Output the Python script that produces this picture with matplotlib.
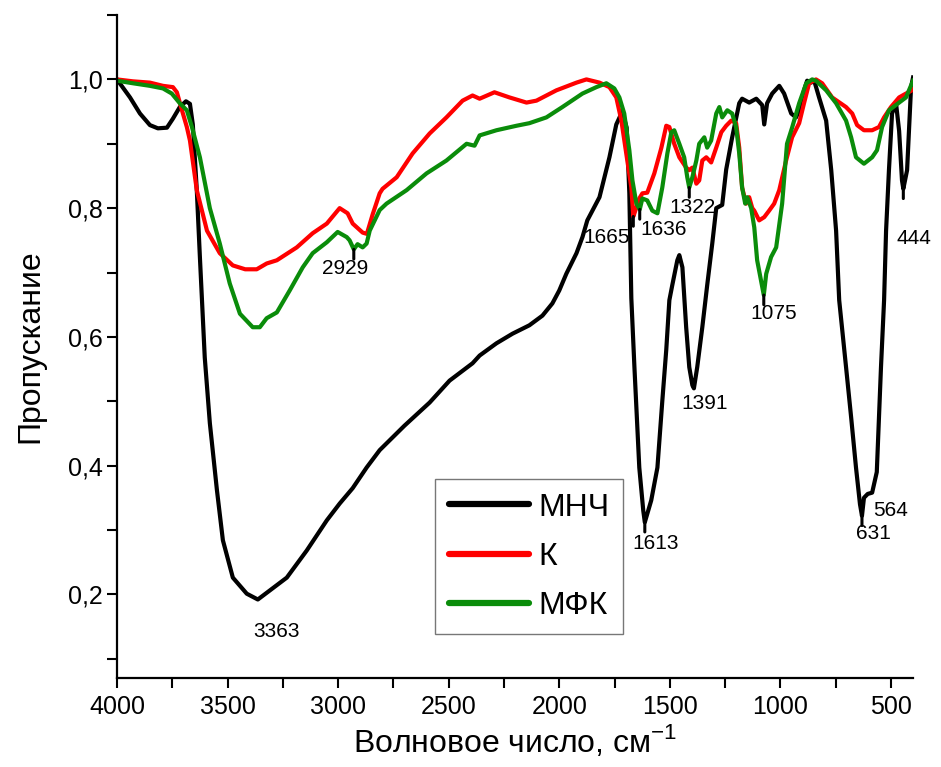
import matplotlib

matplotlib.use("Agg")
import matplotlib.pyplot as plt
import numpy as np
from matplotlib.ticker import FuncFormatter, MultipleLocator

plt.rcParams["font.family"] = ["Liberation Sans", "DejaVu Sans"]
plt.rcParams["mathtext.fontset"] = "custom"
plt.rcParams["mathtext.rm"] = "Liberation Sans"

# IR spectra: wavenumber (cm^-1) and transmittance
wn_mnch = [4000, 3941, 3896, 3851, 3815, 3774, 3747, 3716, 3688, 3670, 3657, 3639,
           3625, 3603, 3580, 3548, 3521, 3476, 3413, 3363, 3309, 3232, 3142, 3051,
           2993, 2934, 2871, 2812, 2700, 2586, 2496, 2392, 2360, 2284, 2211, 2135,
           2076, 2031, 2000, 1968, 1922, 1895, 1873, 1818, 1773, 1742, 1715, 1695,
           1683, 1674, 1660, 1638, 1620, 1613, 1584, 1556, 1534, 1516, 1502, 1489,
           1466, 1457, 1443, 1426, 1412, 1398, 1391, 1376, 1353, 1331, 1308, 1290,
           1263, 1245, 1218, 1186, 1173, 1141, 1109, 1082, 1073, 1060, 1037, 1005,
           983, 951, 929, 915, 893, 879, 861, 847, 825, 793, 770, 748, 734, 703,
           680, 658, 640, 631, 622, 605, 585, 564, 545, 531, 522, 509, 495, 477,
           463, 450, 444, 427, 409, 400]
t_mnch = [1.000, 0.972, 0.947, 0.929, 0.924, 0.925, 0.939, 0.957, 0.966, 0.962, 0.930, 0.828,
          0.724, 0.568, 0.466, 0.362, 0.284, 0.226, 0.201, 0.192, 0.206, 0.226, 0.268, 0.315,
          0.341, 0.365, 0.397, 0.424, 0.462, 0.498, 0.532, 0.559, 0.571, 0.590, 0.605, 0.618,
          0.633, 0.652, 0.672, 0.698, 0.730, 0.755, 0.781, 0.817, 0.879, 0.930, 0.950, 0.925,
          0.823, 0.660, 0.553, 0.397, 0.330, 0.312, 0.346, 0.397, 0.500, 0.580, 0.657, 0.680,
          0.719, 0.727, 0.708, 0.615, 0.553, 0.525, 0.520, 0.553, 0.615, 0.680, 0.745, 0.800,
          0.805, 0.860, 0.910, 0.963, 0.970, 0.964, 0.970, 0.960, 0.930, 0.963, 0.978, 0.990,
          0.978, 0.947, 0.941, 0.952, 0.983, 0.998, 0.995, 0.998, 0.972, 0.936, 0.859, 0.765,
          0.657, 0.553, 0.475, 0.397, 0.340, 0.322, 0.350, 0.356, 0.358, 0.390, 0.553, 0.657,
          0.765, 0.859, 0.947, 0.963, 0.920, 0.843, 0.830, 0.859, 0.988, 1.003]

wn_k = [4000, 3928, 3851, 3792, 3747, 3729, 3706, 3684, 3670, 3639, 3593, 3535, 3476,
        3420, 3368, 3323, 3277, 3187, 3115, 3051, 2993, 2957, 2934, 2889, 2870, 2844,
        2812, 2799, 2735, 2663, 2586, 2510, 2437, 2392, 2360, 2293, 2225, 2148, 2103,
        2013, 1922, 1877, 1818, 1773, 1742, 1719, 1697, 1674, 1665, 1652, 1638, 1624,
        1602, 1570, 1538, 1516, 1502, 1480, 1457, 1426, 1412, 1398, 1380, 1367, 1353,
        1335, 1313, 1290, 1267, 1245, 1222, 1200, 1186, 1173, 1155, 1141, 1127, 1118,
        1096, 1073, 1051, 1028, 1005, 974, 947, 915, 893, 870, 839, 811, 766, 703,
        675, 653, 622, 585, 554, 531, 500, 463, 432, 405, 400]
t_k = [1.000, 0.997, 0.995, 0.990, 0.988, 0.980, 0.952, 0.926, 0.905, 0.828, 0.765, 0.730, 0.711,
       0.705, 0.705, 0.714, 0.719, 0.739, 0.761, 0.776, 0.800, 0.792, 0.776, 0.762, 0.760, 0.790,
       0.823, 0.830, 0.848, 0.885, 0.916, 0.941, 0.967, 0.975, 0.970, 0.980, 0.972, 0.964, 0.967,
       0.983, 0.995, 1.000, 0.995, 0.988, 0.972, 0.936, 0.885, 0.832, 0.787, 0.800, 0.815, 0.823,
       0.824, 0.854, 0.894, 0.928, 0.926, 0.900, 0.879, 0.863, 0.859, 0.863, 0.838, 0.843, 0.874,
       0.879, 0.871, 0.894, 0.918, 0.928, 0.936, 0.932, 0.894, 0.832, 0.807, 0.817, 0.800, 0.796,
       0.781, 0.786, 0.796, 0.807, 0.828, 0.874, 0.910, 0.932, 0.963, 0.994, 1.000, 0.994, 0.972, 0.957,
       0.947, 0.929, 0.921, 0.921, 0.926, 0.941, 0.957, 0.972, 0.978, 0.983, 0.985]

wn_mfk = [4000, 3928, 3851, 3792, 3752, 3716, 3684, 3661, 3625, 3580, 3535, 3490, 3444,
          3386, 3354, 3323, 3277, 3219, 3160, 3115, 3051, 3002, 2961, 2948, 2929, 2912,
          2889, 2871, 2857, 2812, 2781, 2690, 2600, 2510, 2419, 2383, 2360, 2284, 2193,
          2135, 2058, 1986, 1895, 1832, 1787, 1751, 1728, 1706, 1683, 1669, 1651, 1636,
          1624, 1602, 1579, 1556, 1534, 1511, 1493, 1480, 1457, 1435, 1421, 1412, 1398,
          1380, 1367, 1344, 1331, 1313, 1290, 1276, 1263, 1240, 1218, 1200, 1186, 1173,
          1159, 1150, 1132, 1118, 1105, 1075, 1064, 1042, 1019, 992, 970, 947, 915, 883,
          856, 839, 793, 748, 703, 680, 658, 622, 585, 563, 540, 509, 463, 432, 405, 400]
t_mfk = [0.998, 0.994, 0.990, 0.986, 0.978, 0.963, 0.952, 0.926, 0.879, 0.800, 0.745, 0.683, 0.636,
         0.615, 0.615, 0.629, 0.638, 0.672, 0.708, 0.730, 0.747, 0.763, 0.755, 0.750, 0.736, 0.744,
         0.739, 0.745, 0.765, 0.797, 0.807, 0.828, 0.854, 0.874, 0.900, 0.897, 0.913, 0.921, 0.928,
         0.932, 0.941, 0.957, 0.978, 0.988, 0.994, 0.986, 0.972, 0.947, 0.890, 0.843, 0.807, 0.798,
         0.815, 0.812, 0.796, 0.792, 0.832, 0.885, 0.918, 0.921, 0.900, 0.879, 0.848, 0.832, 0.848,
         0.874, 0.900, 0.910, 0.894, 0.905, 0.947, 0.957, 0.941, 0.952, 0.947, 0.926, 0.885, 0.832,
         0.807, 0.817, 0.800, 0.770, 0.719, 0.665, 0.698, 0.724, 0.739, 0.807, 0.900, 0.925, 0.963, 0.994,
         1.000, 0.998, 0.983, 0.963, 0.936, 0.910, 0.879, 0.869, 0.879, 0.890, 0.926, 0.952, 0.964, 0.972,
         0.994, 0.998]

series = [
    ("МНЧ", wn_mnch, t_mnch, "black"),
    ("К", wn_k, t_k, "#ff0000"),
    ("МФК", wn_mfk, t_mfk, "#0a8c0a"),
]

# peak labels: text, series, leader wavenumber (None = no leader), text position
peak_labels = [
    ("3363", "МНЧ", None, 3277, 0.142),
    ("2929", "МФК", 2929, 2970, 0.706),
    ("1665", "К", 1665, 1787, 0.755),
    ("1636", "МФК", 1636, 1529, 0.767),
    ("1322", "МФК", 1412, 1398, 0.801),
    ("1075", "МФК", 1075, 1032, 0.636),
    ("1613", "МНЧ", 1613, 1566, 0.279),
    ("1391", "МНЧ", None, 1344, 0.497),
    ("631", "МНЧ", 631, 581, 0.295),
    ("564", "МНЧ", None, 500, 0.330),
    ("444", "МНЧ", 444, 396, 0.753),
]

fig = plt.figure(figsize=(9.41, 7.67), dpi=100)
ax = fig.add_axes([0.1243, 0.116, 0.846, 0.8644])

for name, wn, t, color in series:
    ax.plot(wn, t, color=color, lw=3, label=name, solid_joinstyle="round")

curves = {name: (np.array(wn[::-1]), np.array(t[::-1])) for name, wn, t, _ in series}
for text, key, lead_wn, tx, ty in peak_labels:
    if lead_wn is not None:
        xs, ys = curves[key]
        y0 = np.interp(lead_wn, xs, ys)
        ax.annotate("", xy=(lead_wn, y0), xytext=(0, -7), textcoords="offset points",
                    arrowprops=dict(arrowstyle="-", lw=2.2, color="black",
                                    shrinkA=0, shrinkB=0))
    ax.text(tx, ty, text, fontsize=15, ha="center", va="center", clip_on=False)

ax.set_xlim(4000, 400)
ax.set_ylim(0.07, 1.1)
ax.xaxis.set_major_locator(MultipleLocator(500))
ax.xaxis.set_minor_locator(MultipleLocator(250))
ax.yaxis.set_major_locator(MultipleLocator(0.2))
ax.yaxis.set_minor_locator(MultipleLocator(0.1))
ax.yaxis.set_major_formatter(FuncFormatter(lambda v, _: f"{v:.1f}".replace(".", ",")))

for side in ("top", "right"):
    ax.spines[side].set_visible(False)
for side in ("left", "bottom"):
    ax.spines[side].set_linewidth(1.6)
ax.tick_params(which="both", direction="out", width=1.5, length=7, labelsize=18)
ax.tick_params(axis="x", pad=5)

ax.set_xlabel("Волновое число, см$^{\\mathrm{-1}}$", fontsize=23, labelpad=3)
ax.set_ylabel("Пропускание", fontsize=23, labelpad=16)

leg = ax.legend(loc="upper left", bbox_to_anchor=(0.40, 0.30), fontsize=23,
                frameon=True, fancybox=False, handlelength=2.5, handletextpad=0.3,
                labelspacing=0.6, borderpad=0.42, borderaxespad=0)
leg.get_frame().set_edgecolor("#555555")
leg.get_frame().set_linewidth(1.0)
for line in leg.get_lines():
    line.set_linewidth(4.5)
    line.set_solid_capstyle("round")

fig.savefig("out.png", dpi=100)
